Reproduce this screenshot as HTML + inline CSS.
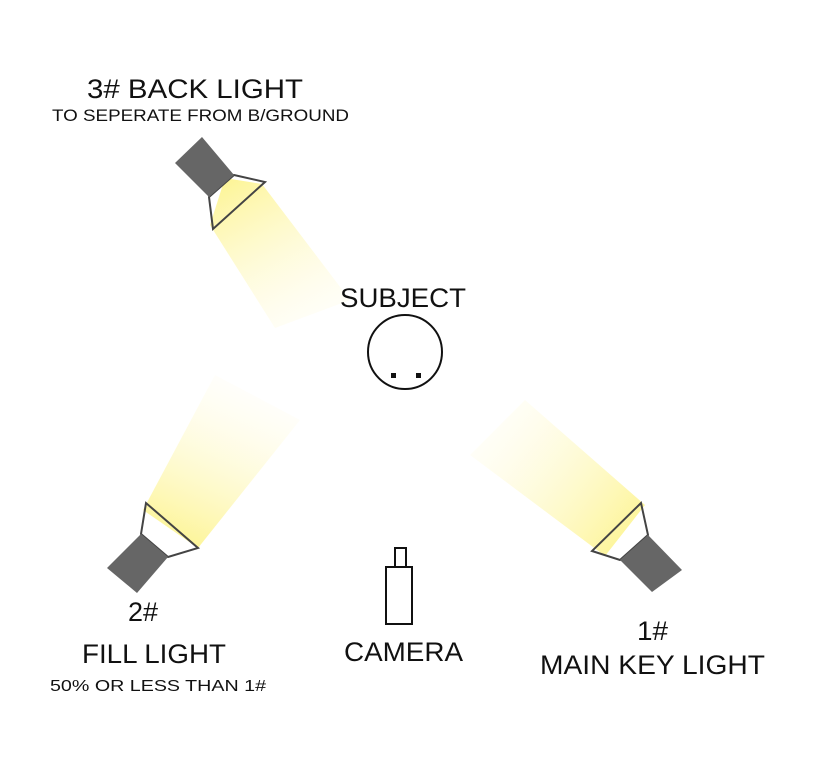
<!DOCTYPE html>
<html><head><style>
body{margin:0;background:#fff;}
svg{display:block;font-family:"Liberation Sans",Arial,sans-serif;}
</style></head><body>
<svg width="827" height="770" viewBox="0 0 827 770">
<defs>
<linearGradient id="gb" x1="225" y1="185" x2="300" y2="320" gradientUnits="userSpaceOnUse">
<stop offset="0" stop-color="#fdf59a"/><stop offset="1" stop-color="#fffbe0" stop-opacity="0.3"/></linearGradient>
<linearGradient id="gf" x1="170" y1="535" x2="240" y2="380" gradientUnits="userSpaceOnUse">
<stop offset="0" stop-color="#fdf59a"/><stop offset="1" stop-color="#fffbe0" stop-opacity="0.1"/></linearGradient>
<linearGradient id="gk" x1="625" y1="540" x2="470" y2="420" gradientUnits="userSpaceOnUse">
<stop offset="0" stop-color="#fdf59a"/><stop offset="1" stop-color="#fffbe0" stop-opacity="0.1"/></linearGradient>
</defs>
<polygon points="225,178 262,184 350,300 275,328 210,225" fill="url(#gb)"/>
<polygon points="143,510 198,548 300,420 215,375" fill="url(#gf)"/>
<polygon points="645,505 605,556 470,455 525,400" fill="url(#gk)"/>
<polygon points="234,175 265,182 213,229 209,197" fill="none" stroke="#444" stroke-width="2"/>
<polygon points="175,163 202,137 234,175 209,197" fill="#666"/>
<polygon points="141,534 146,503 198,548 168,557" fill="none" stroke="#444" stroke-width="2"/>
<polygon points="107,568 141,534 168,557 137,593" fill="#666"/>
<polygon points="648,535 641,503 592,551 620,560" fill="none" stroke="#444" stroke-width="2"/>
<polygon points="620,560 648,535 682,570 652,592" fill="#666"/>
<circle cx="405" cy="352" r="37" fill="none" stroke="#111" stroke-width="2"/>
<rect x="391" y="373" width="5" height="5" fill="#111"/>
<rect x="416" y="373" width="5" height="5" fill="#111"/>
<rect x="386" y="567" width="26" height="57" fill="none" stroke="#111" stroke-width="2"/>
<rect x="395" y="548" width="11" height="19" fill="none" stroke="#111" stroke-width="2"/>
<g fill="#111">
<text x="87" y="98" font-size="27" textLength="216" lengthAdjust="spacingAndGlyphs">3# BACK LIGHT</text>
<text x="52" y="121" font-size="17" textLength="297" lengthAdjust="spacingAndGlyphs">TO SEPERATE FROM B/GROUND</text>
<text x="340" y="307" font-size="27" textLength="126" lengthAdjust="spacingAndGlyphs">SUBJECT</text>
<text x="128" y="621" font-size="27" textLength="30" lengthAdjust="spacingAndGlyphs">2#</text>
<text x="82" y="663" font-size="27" textLength="144" lengthAdjust="spacingAndGlyphs">FILL LIGHT</text>
<text x="50" y="691" font-size="16" textLength="216" lengthAdjust="spacingAndGlyphs">50% OR LESS THAN 1#</text>
<text x="344" y="661" font-size="27" textLength="119" lengthAdjust="spacingAndGlyphs">CAMERA</text>
<text x="637" y="640" font-size="27" textLength="31" lengthAdjust="spacingAndGlyphs">1#</text>
<text x="540" y="674" font-size="27" textLength="225" lengthAdjust="spacingAndGlyphs">MAIN KEY LIGHT</text>
</g>
</svg>
</body></html>
